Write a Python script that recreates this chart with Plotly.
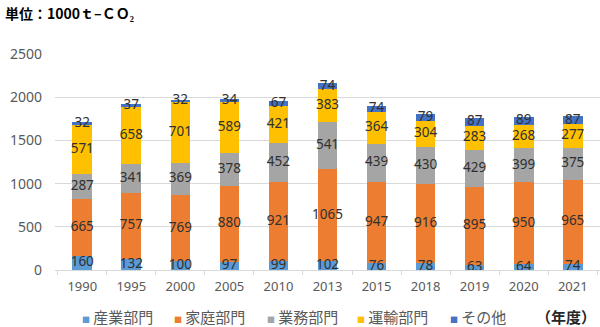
import plotly.graph_objects as go
import numpy as np

years = ["1990", "1995", "2000", "2005", "2010", "2013", "2015", "2018", "2019", "2020", "2021"]
series_names = ["産業部門", "家庭部門", "業務部門", "運輸部門", "その他"]
sangyo = [160, 132, 100, 97, 99, 102, 76, 78, 63, 64, 74]
katei = [665, 757, 769, 880, 921, 1065, 947, 916, 895, 950, 965]
gyomu = [287, 341, 369, 378, 452, 541, 439, 430, 429, 399, 375]
unyu = [571, 658, 701, 589, 421, 383, 364, 304, 283, 268, 277]
sonota = [32, 37, 32, 34, 67, 74, 74, 79, 87, 89, 87]
colors = ["#5B9BD5", "#ED7D31", "#A5A5A5", "#FFC000", "#4472C4"]
yticks = [0, 500, 1000, 1500, 2000, 2500]
title_text = "単位：1000ｔ–ＣＯ₂"
unit_text = "（年度）"

W, H = 600, 327
ML, MR, MT, MB = 55, 0, 54, 57
PW, PH = W - ML - MR, H - MT - MB


def px(x):
    return (x - ML) / PW


def py(y):
    return (H - MB - y) / PH


values = [sangyo, katei, gyomu, unyu, sonota]
fig = go.Figure()
base = np.zeros(len(years))
label_font = dict(family="Noto Sans, sans-serif", size=13.5, color="#303030")
for name, vals, col in zip(series_names, values, colors):
    v = np.array(vals, dtype=float)
    fig.add_trace(go.Bar(x=years, y=v, name=name, marker=dict(color=col, line=dict(width=0)),
                         hoverinfo="skip", showlegend=False))
    mids = base + v / 2
    fig.add_trace(go.Scatter(x=years, y=mids, mode="text", text=[str(x) for x in vals],
                             textfont=label_font, showlegend=False, hoverinfo="skip"))
    base = base + v

annotations = [
    dict(text="<b>" + title_text + "</b>", xref="paper", yref="paper", x=px(3), y=py(13),
         xanchor="left", yanchor="middle", showarrow=False,
         font=dict(size=14, color="#000000", family="Noto Sans CJK JP")),
    dict(text="<b>" + unit_text + "</b>", xref="paper", yref="paper", x=px(598), y=py(316),
         xanchor="right", yanchor="middle", showarrow=False,
         font=dict(size=15, color="#262626", family="Noto Sans CJK JP")),
]
legend_x = [80, 172, 265, 355, 448]
for name, col, lx in zip(series_names, colors, legend_x):
    annotations.append(dict(
        text=f"<span style='color:{col};font-size:8px'>■</span> {name}",
        xref="paper", yref="paper", x=px(lx), y=py(316), xanchor="left", yanchor="middle",
        showarrow=False, font=dict(size=15, color="#595959", family="Noto Sans CJK JP")))

fig.update_layout(
    barmode="stack",
    bargap=0.6,
    width=W, height=H,
    margin=dict(l=ML, r=MR, t=MT, b=MB),
    plot_bgcolor="white", paper_bgcolor="white",
    showlegend=False,
    font=dict(family="Noto Sans CJK JP, Noto Sans, sans-serif", color="#595959"),
    xaxis=dict(type="category", tickson="boundaries", ticks="outside", ticklen=4,
               tickcolor="#D9D9D9", showline=True, linecolor="#D9D9D9", showgrid=False,
               ticklabelstandoff=4,
               tickfont=dict(family="Noto Sans, sans-serif", size=13, color="#595959")),
    yaxis=dict(range=[0, 2500], tickvals=yticks, showgrid=True, gridcolor="#D9D9D9",
               zeroline=False, showline=False, ticks="", ticklabelstandoff=12,
               tickfont=dict(family="Noto Sans, sans-serif", size=14, color="#595959")),
    annotations=annotations,
)
fig.write_html("out.html")
